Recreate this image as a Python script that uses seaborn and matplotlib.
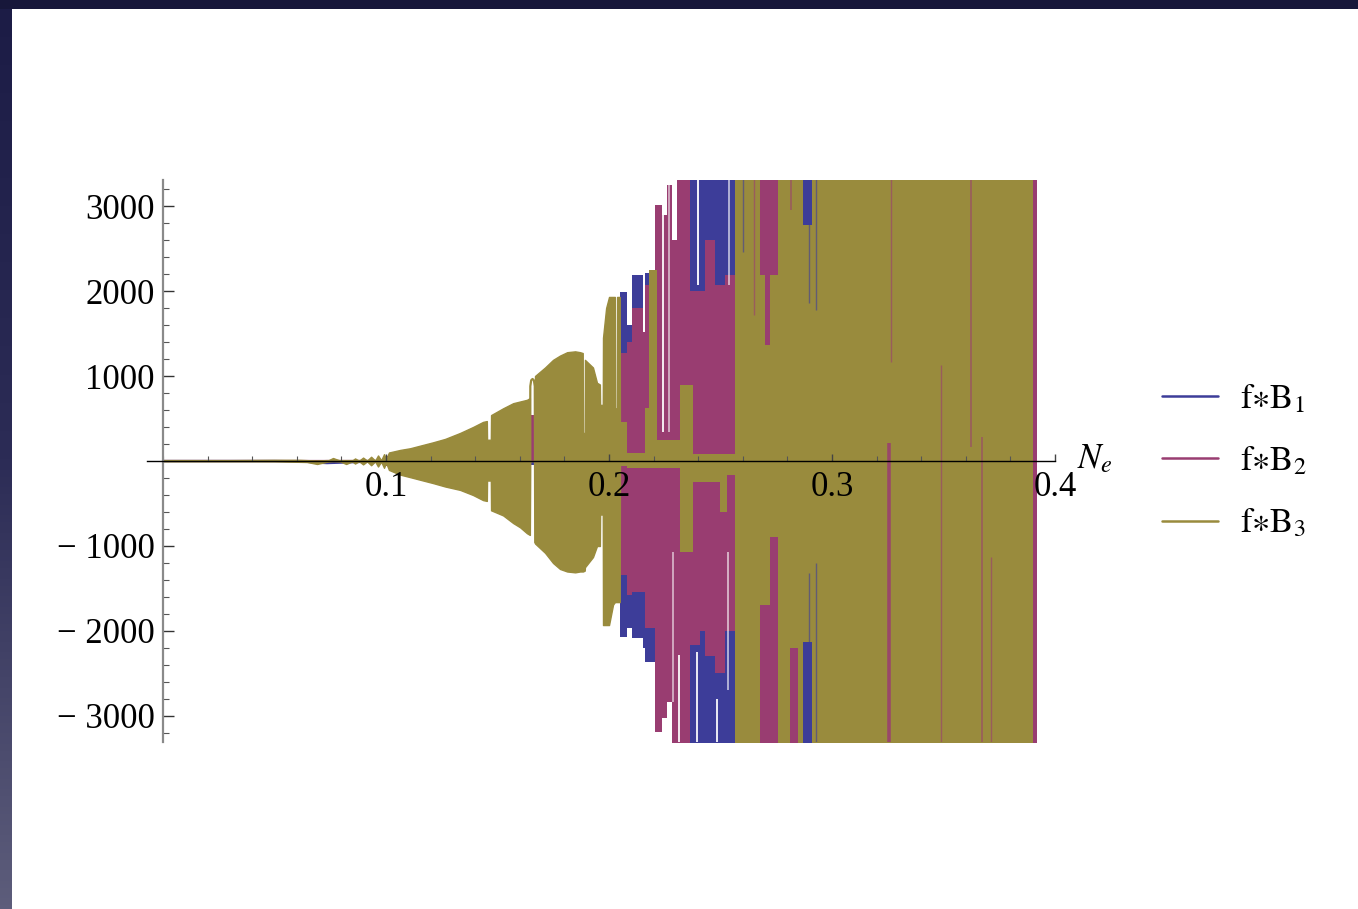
import numpy as np
import pandas as pd
import matplotlib
matplotlib.use("Agg")
import matplotlib.pyplot as plt
import seaborn as sns
from matplotlib.ticker import FixedLocator, MultipleLocator
from matplotlib.colors import LinearSegmentedColormap
from matplotlib.patches import Rectangle

# ---------------- data ----------------
series_names = ["B1", "B2", "B3"]
legend_labels = [r"$\mathrm{f}{\ast}\mathrm{B}_1$", r"$\mathrm{f}{\ast}\mathrm{B}_2$", r"$\mathrm{f}{\ast}\mathrm{B}_3$"]
x_ticks = [0.1, 0.2, 0.3, 0.4]
x_tick_labels = ["0.1", "0.2", "0.3", "0.4"]
y_ticks = [-3000, -2000, -1000, 1000, 2000, 3000]
y_tick_labels = ["\u2212 3000", "\u2212 2000", "\u2212 1000", "1000", "2000", "3000"]

# small-amplitude traces near the origin
early_x = [0.0, 0.030, 0.050, 0.0614, 0.0691, 0.0735, 0.0794, 0.1000]
early_b1 = [0, 0, 0, -3, -20, -25, -20, 0]
early_b2 = [0, 0, 0, 0, 0, 0, 0, 0]
early_b3 = [0, 0, 3, 3, -5, 0, 0, 0]

# f*B3 envelope, smooth part (N_e, upper, lower)
env3_x = [0.0000, 0.0500, 0.0614, 0.0646, 0.0691, 0.0735, 0.0762, 0.0794, 0.0821, 0.0848,
          0.0861, 0.0879, 0.0897, 0.0915, 0.0933, 0.0951, 0.0964, 0.0978, 0.0991, 0.1000,
          0.1013, 0.1063, 0.1108, 0.1152, 0.1211, 0.1265, 0.1332, 0.1390, 0.1435, 0.1452,
          0.1453, 0.1470, 0.1471, 0.1525, 0.1570, 0.1601, 0.1632, 0.1645, 0.1646, 0.1667,
          0.1668, 0.1713, 0.1749, 0.1780, 0.1812, 0.1848, 0.1870, 0.1882, 0.1883, 0.1891,
          0.1892, 0.1928, 0.1946, 0.1959, 0.1960, 0.1972, 0.1973, 0.1987, 0.2000, 0.2018,
          0.2026, 0.2027, 0.2035, 0.2036, 0.2048, 0.2049]
env3_up = [0, 4, 5, 0, 0, 0, 35, 5, 0, 5,
           30, 3, 40, 5, 50, 5, 65, 8, 80, 20,
           100, 130, 150, 180, 220, 260, 330, 400, 460, 470,
           250, 250, 540, 620, 680, 700, 720, 740, 0, 0,
           1000, 1100, 1190, 1240, 1280, 1290, 1280, 1270, 330, 330,
           1190, 1100, 920, 900, 660, 660, 1450, 1800, 1930, 1930,
           1930, 620, 620, 1930, 1930, 60]
env3_lo = [0, -4, -10, -12, -35, -8, 0, -5, -35, -5,
           -30, -3, -40, -5, -50, -5, -65, -8, -80, -20,
           -105, -160, -190, -220, -260, -300, -340, -400, -460, -470,
           -230, -230, -580, -640, -730, -780, -850, -870, 0, 0,
           -970, -1080, -1200, -1270, -1300, -1310, -1300, -1300, -1300, -1290,
           -1250, -1130, -1000, -1000, -630, -630, -1930, -1930, -1930, -1690,
           -1660, -1660, -1660, -1660, -1660, -60]

# f*B3 column envelope (step) for the dense region
col3_x = [0.2049, 0.2054, 0.2081, 0.2161, 0.2179, 0.2215, 0.2318, 0.2377, 0.2498, 0.2530,
          0.2565, 0.2677, 0.2700, 0.2722, 0.2758, 0.2812, 0.2848, 0.2870, 0.2910]
col3_up = [60, 460, 100, 620, 2250, 250, 900, 80, 80, 80,
           3400, 2190, 1360, 2190, 3400, 3400, 3400, 2780, 3400]
col3_lo = [-60, -60, -80, -80, -80, -80, -1070, -250, -600, -170,
           -3400, -1700, -1700, -900, -3400, -2200, -3400, -2130, -3400]
col3_end = 0.3902

# f*B2 column envelope
col2_x = [0.1000, 0.1648, 0.1663, 0.1960, 0.1973, 0.2027, 0.2036, 0.2049, 0.2081, 0.2103,
          0.2152, 0.2161, 0.2206, 0.2238, 0.2260, 0.2283, 0.2305, 0.2363, 0.2408, 0.2430,
          0.2475, 0.2520, 0.2565, 0.2677, 0.2758, 0.2812, 0.2848, 0.3898]
col2_up = [60, 540, 300, 0, 300, 0, 300, 1270, 1400, 1800,
           1520, 2070, 3010, 2890, 3250, 2600, 3400, 2000, 2000, 2600,
           2070, 2190, 1000, 3400, 1000, 1000, 1000, 3400]
col2_lo = [-60, 0, -300, 0, -300, 0, -300, -1340, -1580, -1540,
           -1540, -1960, -3190, -3020, -2840, -3400, -3400, -2170, -2000, -2300,
           -2500, -2000, -1000, -3400, -1000, -3400, -1000, -3400]
col2_end = 0.3920

# f*B1 column envelope
col1_x = [0.1000, 0.2049, 0.2081, 0.2103, 0.2152, 0.2161, 0.2206, 0.2363, 0.2574, 0.2870, 0.2910]
col1_up = [50, 1990, 1600, 2190, 1520, 2210, 2000, 3400, 1000, 3400, 1000]
col1_lo = [-50, -2070, -1970, -2080, -2200, -2360, -2000, -3400, -1000, -3400, -1000]
col1_end = 0.3905

# thin olive loop near N_e = 0.165
loop_x = [0.1645, 0.1647, 0.1651, 0.1657, 0.1663, 0.1667, 0.1669]
loop_y = [-860, 880, 950, 965, 950, 880, -960]

# isolated thin spikes (N_e, low, high, series index, width)
spike_x = [0.3256, 0.3265, 0.3623, 0.3489, 0.3673, 0.3713, 0.2650, 0.2816,
           0.2895, 0.2895, 0.2928, 0.2928, 0.2601]
spike_lo = [-3400, 1165, 165, -3400, -3400, -3400, 1720, 2950,
            1860, -3400, 1780, -3400, 2460]
spike_hi = [210, 3400, 3400, 1130, 280, -1130, 3400, 3400,
            3400, -1320, 3400, -1200, 3400]
spike_series = [1, 1, 1, 1, 1, 1, 1, 1, 0, 0, 0, 0, 0]
spike_width = [2.6, 1.0, 1.2, 1.0, 1.2, 1.0, 1.0, 1.2, 1.0, 1.0, 1.0, 1.0, 1.0]

# white gaps inside the dense region
gap_x = [0.2240, 0.2269, 0.2399, 0.2538, 0.2287, 0.2312, 0.2395, 0.2484, 0.2534]
gap_lo = [340, 340, 2070, 2070, -2840, -3400, -3400, -3400, -2700]
gap_hi = [3400, 3250, 3400, 3400, -1070, -2280, -2250, -2800, -1070]
gap_alpha = [0.9, 0.55, 0.95, 0.6, 0.55, 0.9, 0.9, 0.9, 0.6]

# ---------------- styling ----------------
C = ["#3d3d99", "#993d71", "#998b3d"]
sns.set_theme(style="white")
plt.rcParams["font.family"] = ["Liberation Serif", "DejaVu Serif"]
plt.rcParams["mathtext.fontset"] = "stix"
for k in ["text.color", "xtick.color", "ytick.color", "axes.labelcolor"]:
    plt.rcParams[k] = "black"

W, H = 1358, 909
fig = plt.figure(figsize=(W / 100, H / 100), dpi=100)
fig.patch.set_facecolor("white")

# slide frame (dark top band + gradient left band)
fig.add_artist(Rectangle((0, 1 - 9 / H), 1, 9 / H, transform=fig.transFigure,
                         facecolor="#17173a", edgecolor="none", zorder=0))
bg = fig.add_axes([0, 0, 11 / W, 1 - 9 / H])
cmap = LinearSegmentedColormap.from_list("frame", ["#1c1c46", "#2c2c56", "#5d5d7b"])
bg.imshow(np.linspace(0, 1, 256).reshape(-1, 1), aspect="auto", cmap=cmap)
bg.axis("off")

ax = fig.add_axes([147 / W, (H - 742) / H, (1055 - 147) / W, (742 - 180) / H])
ax.set_xlim(-0.0072, 0.4)
ax.set_ylim(-3306, 3306)

# early traces via seaborn (also provide legend handles)
early_df = pd.DataFrame({
    "N": early_x * 3,
    "val": early_b1 + early_b2 + early_b3,
    "series": [series_names[0]] * len(early_x) + [series_names[1]] * len(early_x) + [series_names[2]] * len(early_x),
})
sns.lineplot(data=early_df, x="N", y="val", hue="series", hue_order=series_names,
             palette=C, linewidth=1.6, ax=ax, zorder=0.9, legend=True)


def band(xs, up, lo, end, color, z):
    xs = np.append(np.asarray(xs, float), end)
    up = np.append(np.asarray(up, float), up[-1])
    lo = np.append(np.asarray(lo, float), lo[-1])
    ax.fill_between(xs, lo, up, step="post", color=color, lw=0, zorder=z)


band(col1_x, col1_up, col1_lo, col1_end, C[0], 1.0)
band(col2_x, col2_up, col2_lo, col2_end, C[1], 1.1)
ax.fill_between(env3_x, env3_lo, env3_up, color=C[2], edgecolor=C[2], lw=1.0, zorder=1.2)
band(col3_x, col3_up, col3_lo, col3_end, C[2], 1.2)
ax.plot(loop_x, loop_y, color=C[2], lw=1.6, zorder=1.3)

for sx, lo, hi, si, w in zip(spike_x, spike_lo, spike_hi, spike_series, spike_width):
    ax.vlines(sx, lo, hi, colors=C[si], linewidths=w, alpha=0.85 if w > 2 else 0.6, zorder=1.4)
for gx, lo, hi, a in zip(gap_x, gap_lo, gap_hi, gap_alpha):
    ax.vlines(gx, lo, hi, colors="white", linewidths=1.4, alpha=a, zorder=1.5)

# axes
ax.set_facecolor("none")
ax.grid(False)
ax.set_axisbelow(False)
for s in ["top", "right"]:
    ax.spines[s].set_visible(False)
ax.spines["left"].set_position(("data", 0))
ax.spines["bottom"].set_position(("data", 0))
ax.spines["left"].set_color("#8a8a8a")
ax.spines["left"].set_linewidth(1.6)
ax.spines["bottom"].set_color("black")
ax.spines["bottom"].set_linewidth(1.0)
for s in ["left", "bottom"]:
    ax.spines[s].set_zorder(5)

ax.xaxis.set_major_locator(FixedLocator(x_ticks))
ax.xaxis.set_minor_locator(MultipleLocator(0.02))
ax.set_xticklabels(x_tick_labels)
ax.yaxis.set_major_locator(FixedLocator(y_ticks))
ax.yaxis.set_minor_locator(MultipleLocator(200))
ax.set_yticklabels(y_tick_labels)
ax.tick_params(axis="both", which="both", direction="in", bottom=True, left=True,
               labelcolor="black")
ax.tick_params(axis="y", which="major", length=8, width=1.0, color="#333333", labelsize=25, pad=6)
ax.tick_params(axis="y", which="minor", length=4.5, width=0.8, color="#555555")
ax.tick_params(axis="x", which="major", length=5, width=1.0, color="#444444", labelsize=25, pad=7)
ax.tick_params(axis="x", which="minor", length=3.8, width=0.8, color="#555555")
ax.set_xlabel("")
ax.set_ylabel("")
ax.text(0.4098, 20, r"$N_e$", fontsize=25, ha="left", va="center", color="black")

handles, _ = ax.get_legend_handles_labels()
leg = ax.legend(handles[:3], legend_labels, loc="center left",
                bbox_to_anchor=(1162 / W, (H - 462) / H), bbox_transform=fig.transFigure,
                frameon=False, fontsize=25, handlelength=1.6, handletextpad=0.65,
                labelspacing=0.84, borderpad=0, borderaxespad=0)
for lh in leg.get_lines():
    lh.set_linewidth(1.8)
for t in leg.get_texts():
    t.set_color("black")

fig.savefig("out.png", dpi=100, facecolor="white")
